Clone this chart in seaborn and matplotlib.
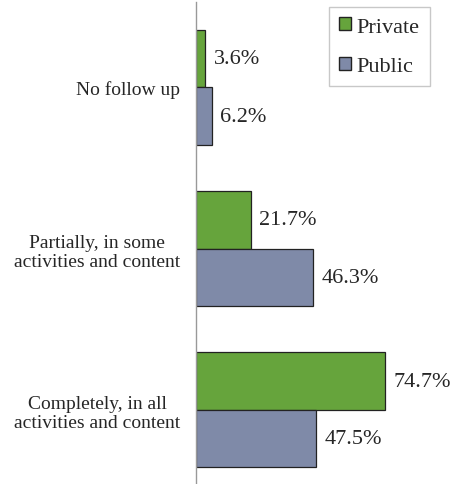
import pandas as pd
import matplotlib.pyplot as plt
import seaborn as sns
from matplotlib.patches import Patch

# --- data ---
categories = ["No follow up", "Partially, in some\nactivities and content",
              "Completely, in all\nactivities and content"]
private_vals = [3.6, 21.7, 74.7]
public_vals = [6.2, 46.3, 47.5]
series = ["Private", "Public"]
colors = ["#66A43C", "#7F8AA8"]

df = pd.DataFrame({
    "Kategorie": categories * 2,
    "Wert": private_vals + public_vals,
    "Typ": ["Private"] * 3 + ["Public"] * 3,
})

sns.set_theme(style="white")
plt.rcParams['font.family'] = ['Liberation Serif', 'DejaVu Serif']

fig = plt.figure(figsize=(4.54, 4.85), dpi=100)
ax = fig.add_axes([0.432, 0.0, 0.568, 0.994])

sns.barplot(data=df, y="Kategorie", x="Wert", hue="Typ", order=categories,
            hue_order=series, palette=colors, orient="h", width=0.715,
            saturation=1, edgecolor="#222222", linewidth=0.9, ax=ax,
            legend=False)

ax.set_xlim(0, 102)
ax.set_ylim(2.46, -0.53)

for cont in ax.containers:
    ax.bar_label(cont, labels=[f"{v:.1f}%" for v in cont.datavalues],
                 padding=6, fontsize=16)

ax.set_xticks([])
ax.set_xlabel("")
ax.set_ylabel("")
ax.tick_params(axis="y", length=0, pad=11.5, labelsize=14)
for lbl in ax.get_yticklabels():
    lbl.set_multialignment("center")
for s in ["top", "right", "bottom"]:
    ax.spines[s].set_visible(False)
ax.spines["left"].set_color("#999999")
ax.spines["left"].set_linewidth(1.0)

legend_elements = [Patch(facecolor=c, edgecolor="#222222", label=l)
                   for c, l in zip(colors, series)]
leg = fig.legend(handles=legend_elements, loc="upper left",
                 bbox_to_anchor=(329 / 454, 1 - 8 / 485), fontsize=16,
                 frameon=True, fancybox=False, edgecolor="#bbbbbb",
                 handlelength=0.55, handleheight=0.55, handletextpad=0.25,
                 labelspacing=0.9, borderpad=0.45, borderaxespad=0)

fig.savefig("out.png", dpi=100)
